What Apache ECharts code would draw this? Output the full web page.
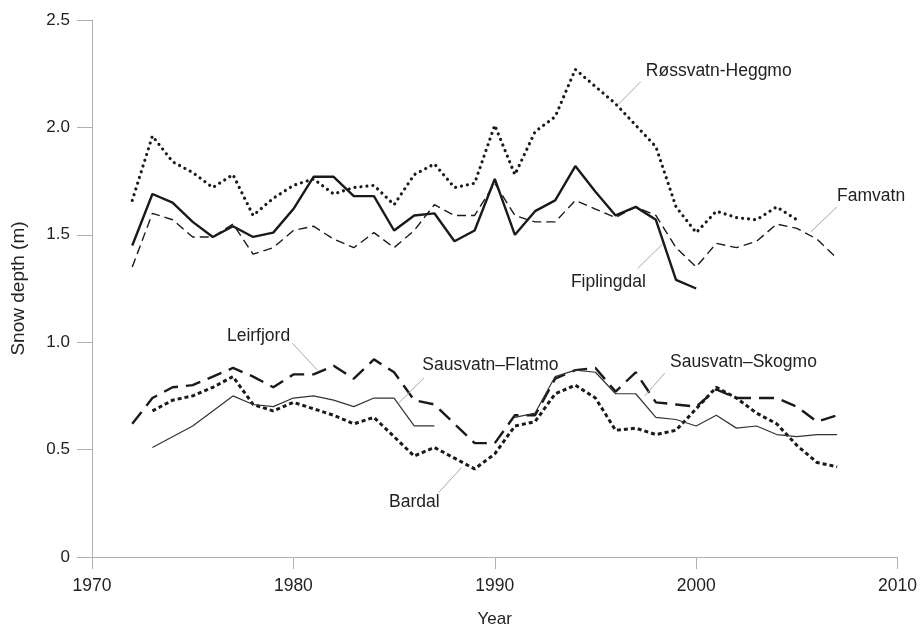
<!DOCTYPE html>
<html lang="en">
<head>
<meta charset="UTF-8">
<title>Snow depth</title>
<script src="https://cdn.jsdelivr.net/npm/echarts@6/dist/echarts.min.js"></script>
<style>
    html, body { margin: 0; padding: 0; background: #fff; }
    #main { width: 920px; height: 633px; }
</style>
</head>
<body>
<div id="main"></div>
<script type="text/javascript">
    // years
    var years72to07 = [1972, 1973, 1974, 1975, 1976, 1977, 1978, 1979, 1980, 1981, 1982, 1983, 1984, 1985, 1986, 1987, 1988, 1989,
        1990, 1991, 1992, 1993, 1994, 1995, 1996, 1997, 1998, 1999, 2000, 2001, 2002, 2003, 2004, 2005, 2006, 2007];
    var years73to07 = years72to07.slice(1);
    var years72to05 = years72to07.slice(0, 34);
    var years72to00 = years72to07.slice(0, 29);
    var years73to87 = years72to07.slice(1, 16);
    var years91to07 = years72to07.slice(19);

    // snow depth (m)
    var rossvatn = [1.66, 1.96, 1.84, 1.79, 1.72, 1.78, 1.59, 1.67, 1.73, 1.76, 1.69, 1.72, 1.73, 1.64, 1.78, 1.83, 1.72, 1.74,
        2.01, 1.78, 1.98, 2.05, 2.27, 2.19, 2.11, 2.01, 1.91, 1.63, 1.51, 1.61, 1.58, 1.57, 1.63, 1.57];
    var fiplingdal = [1.45, 1.69, 1.65, 1.56, 1.49, 1.54, 1.49, 1.51, 1.62, 1.77, 1.77, 1.68, 1.68, 1.52, 1.59, 1.60, 1.47, 1.52,
        1.76, 1.50, 1.61, 1.66, 1.82, 1.70, 1.59, 1.63, 1.57, 1.29, 1.25];
    var famvatn = [1.35, 1.60, 1.57, 1.49, 1.49, 1.55, 1.41, 1.44, 1.52, 1.54, 1.48, 1.44, 1.51, 1.44, 1.52, 1.64, 1.59, 1.59,
        1.74, 1.59, 1.56, 1.56, 1.66, 1.62, 1.58, 1.63, 1.59, 1.44, 1.35, 1.46, 1.44, 1.47, 1.55, 1.53, 1.48, 1.39];
    var leirfjord = [0.62, 0.74, 0.79, 0.80, 0.84, 0.88, 0.84, 0.79, 0.85, 0.85, 0.89, 0.83, 0.92, 0.86, 0.73, 0.71, 0.62, 0.53,
        0.53, 0.66, 0.66, 0.83, 0.87, 0.88, 0.77, 0.86, 0.72, 0.71, 0.70, 0.78, 0.74, 0.74, 0.74, 0.70, 0.63, 0.66];
    var bardal = [0.68, 0.73, 0.75, 0.79, 0.84, 0.71, 0.68, 0.72, 0.69, 0.66, 0.62, 0.65, 0.56, 0.47, 0.51, 0.46, 0.41,
        0.48, 0.61, 0.63, 0.76, 0.80, 0.74, 0.59, 0.60, 0.57, 0.59, 0.69, 0.79, 0.74, 0.67, 0.62, 0.52, 0.44, 0.42];
    var flatmo = [0.51, 0.56, 0.61, 0.68, 0.75, 0.71, 0.70, 0.74, 0.75, 0.73, 0.70, 0.74, 0.74, 0.61, 0.61];
    var skogmo = [0.65, 0.67, 0.84, 0.87, 0.86, 0.76, 0.76, 0.65, 0.64, 0.61, 0.66, 0.60, 0.61, 0.57, 0.56, 0.57, 0.57];

    // axis ticks
    var xTicks = [1970, 1980, 1990, 2000, 2010];
    var yTicks = [0, 0.5, 1.0, 1.5, 2.0, 2.5];

    // annotation text: [text, year, depth, align]; leader line: [year1, depth1, year2, depth2]
    var notes = {
        ross: ['Røssvatn-Heggmo', 1997.5, 2.26, 'left'],
        fam: ['Famvatn', 2007.0, 1.68, 'left'],
        fip: ['Fiplingdal', 1997.5, 1.28, 'right'],
        leir: ['Leirfjord', 1976.7, 1.03, 'left'],
        flat: ['Sausvatn\u2013Flatmo', 1986.4, 0.895, 'left'],
        bar: ['Bardal', 1984.75, 0.255, 'left'],
        skog: ['Sausvatn\u2013Skogmo', 1998.7, 0.905, 'left']
    };
    var leaders = {
        ross: [1997.25, 2.213, 1996.12, 2.106],
        fam: [2006.99, 1.63, 2005.7, 1.514],
        fip: [1998.34, 1.458, 1997.1, 1.343],
        leir: [1979.95, 0.995, 1981.19, 0.870],
        flat: [1986.48, 0.833, 1985.24, 0.718],
        bar: [1987.22, 0.301, 1988.36, 0.417],
        skog: [1998.44, 0.856, 1997.45, 0.75]
    };

    var ink = '#1a1a1a';
    var font = '"Liberation Sans", Arial, sans-serif';

    function pairs(xs, ys) {
        var out = [];
        for (var i = 0; i < ys.length; i++) out.push([xs[i], ys[i]]);
        return out;
    }

    function line(name, xs, ys, style, key) {
        var n = notes[key], l = leaders[key];
        return {
            name: name,
            type: 'line',
            data: pairs(xs, ys),
            symbol: 'none',
            showSymbol: false,
            lineStyle: style,
            z: 3,
            markPoint: {
                silent: true,
                symbol: 'circle',
                symbolSize: 0,
                data: [{
                    coord: [n[1], n[2]],
                    label: {
                        show: true,
                        position: 'inside',
                        align: n[3],
                        verticalAlign: 'middle',
                        formatter: n[0],
                        color: '#222',
                        fontSize: 17.5,
                        fontFamily: font
                    }
                }]
            },
            markLine: {
                silent: true,
                symbol: 'none',
                label: { show: false },
                lineStyle: { color: '#aaa', width: 1, type: 'solid' },
                data: [[{ coord: [l[0], l[1]] }, { coord: [l[2], l[3]] }]]
            }
        };
    }

    var chart = echarts.init(document.getElementById('main'));
    chart.setOption({
        animation: false,
        backgroundColor: '#fff',
        grid: { left: 92, right: 19, top: 20, bottom: 73 },
        xAxis: {
            type: 'value',
            min: xTicks[0],
            max: xTicks[xTicks.length - 1],
            interval: 10,
            name: 'Year',
            nameLocation: 'middle',
            nameGap: 54,
            nameTextStyle: { color: '#222', fontSize: 17, fontFamily: font },
            axisLine: { show: true, onZero: false, lineStyle: { color: '#b0b0b0', width: 1 } },
            axisTick: { show: true, length: 12, lineStyle: { color: '#b0b0b0' } },
            axisLabel: {
                color: '#222', fontSize: 17.5, margin: 20, fontFamily: font,
                formatter: function (v) { return String(v); }
            },
            splitLine: { show: false }
        },
        yAxis: {
            type: 'value',
            min: yTicks[0],
            max: yTicks[yTicks.length - 1],
            interval: 0.5,
            name: 'Snow depth (m)',
            nameLocation: 'middle',
            nameGap: 64,
            nameTextStyle: { color: '#222', fontSize: 19, fontFamily: font },
            axisLine: { show: true, lineStyle: { color: '#b0b0b0', width: 1 } },
            axisTick: { show: true, length: 15, lineStyle: { color: '#b0b0b0' } },
            axisLabel: {
                color: '#222', fontSize: 17, margin: 22, fontFamily: font,
                formatter: function (v) { return v === 0 ? '0' : v.toFixed(1); }
            },
            splitLine: { show: false }
        },
        series: [
            line('Røssvatn-Heggmo', years72to05, rossvatn,
                { color: ink, width: 3.2, type: [0.01, 6], cap: 'round' }, 'ross'),
            line('Fiplingdal', years72to00, fiplingdal,
                { color: ink, width: 2.4 }, 'fip'),
            line('Famvatn', years72to07, famvatn,
                { color: ink, width: 1.4, type: [9, 5] }, 'fam'),
            line('Leirfjord', years72to07, leirfjord,
                { color: ink, width: 2.4, type: [15, 8] }, 'leir'),
            line('Bardal', years73to07, bardal,
                { color: ink, width: 3, type: [4, 3] }, 'bar'),
            line('Sausvatn–Flatmo', years73to87, flatmo,
                { color: '#333', width: 1.2 }, 'flat'),
            line('Sausvatn–Skogmo', years91to07, skogmo,
                { color: '#333', width: 1.2 }, 'skog')
        ]
    });

    window.addEventListener('resize', function () {
        chart.resize();
    });
</script>
</body>
</html>
